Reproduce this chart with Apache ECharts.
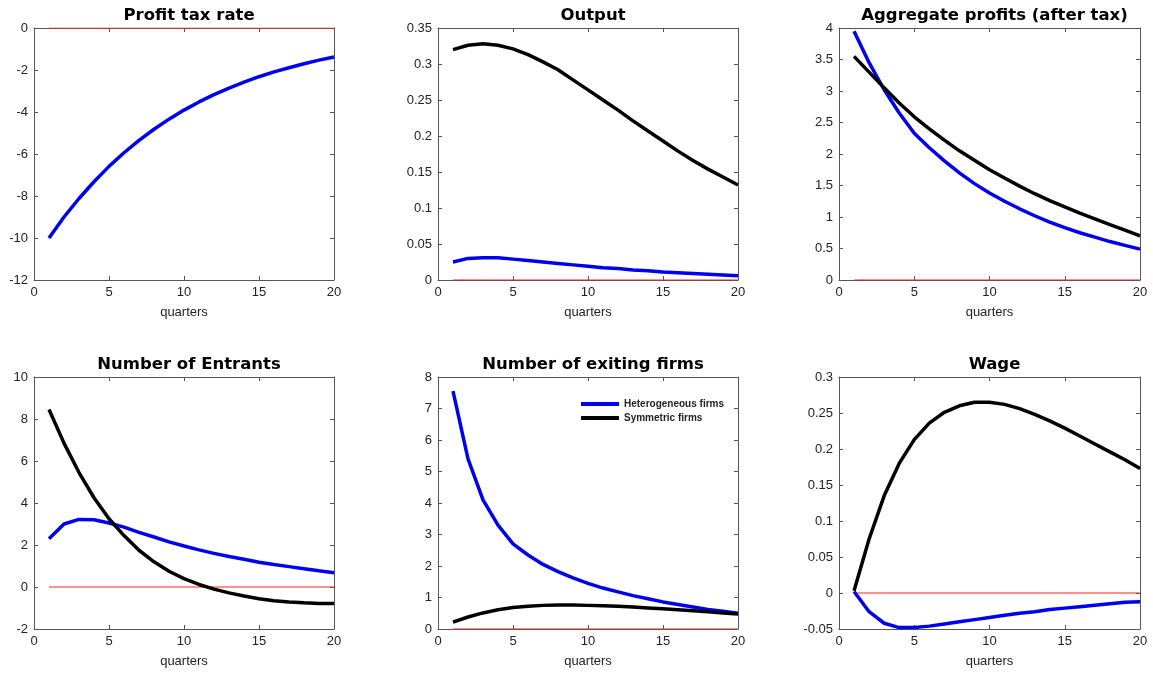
<!DOCTYPE html>
<html>
<head>
<meta charset="utf-8">
<script src="https://cdn.jsdelivr.net/npm/echarts@6/dist/echarts.min.js"></script>
<style>
html,body{margin:0;padding:0;background:#fff;}
#chart{width:1153px;height:677px;}
</style>
</head>
<body>
<div id="chart"></div>
<script>
// ---- Data ----
const quarters = [1,2,3,4,5,6,7,8,9,10,11,12,13,14,15,16,17,18,19,20];
const panelTitles = ["Profit tax rate","Output","Aggregate profits (after tax)","Number of Entrants","Number of exiting firms","Wage"];
const seriesNames = ["Heterogeneous firms","Symmetric firms"];
const xAxisName = "quarters";

// Profit tax rate (only heterogeneous / blue line shown)
const taxHet = [-10,-9.0,-8.12,-7.32,-6.59,-5.94,-5.35,-4.82,-4.34,-3.91,-3.52,-3.17,-2.86,-2.58,-2.32,-2.09,-1.89,-1.70,-1.53,-1.38];
// Output
const outHet = [0.025,0.030,0.031,0.031,0.029,0.027,0.025,0.023,0.021,0.019,0.017,0.016,0.014,0.013,0.011,0.010,0.009,0.008,0.007,0.006];
const outSym = [0.320,0.326,0.328,0.326,0.321,0.313,0.303,0.292,0.278,0.264,0.250,0.236,0.221,0.207,0.193,0.179,0.166,0.154,0.143,0.132];
// Aggregate profits (after tax)
const profHet = [3.95,3.45,3.02,2.65,2.33,2.10,1.89,1.70,1.53,1.38,1.25,1.13,1.02,0.92,0.83,0.75,0.68,0.61,0.55,0.49];
const profSym = [3.55,3.30,3.05,2.81,2.59,2.40,2.22,2.05,1.90,1.75,1.62,1.49,1.37,1.26,1.16,1.06,0.97,0.88,0.79,0.70];
// Number of Entrants
const entHet = [2.3,3.0,3.22,3.2,3.05,2.85,2.6,2.38,2.15,1.95,1.77,1.6,1.45,1.32,1.18,1.07,0.97,0.87,0.77,0.68];
const entSym = [8.45,6.85,5.45,4.25,3.25,2.45,1.75,1.2,0.75,0.4,0.12,-0.1,-0.28,-0.43,-0.56,-0.65,-0.71,-0.75,-0.78,-0.79];
// Number of exiting firms
const exitHet = [7.55,5.4,4.1,3.3,2.7,2.35,2.05,1.82,1.62,1.45,1.3,1.18,1.06,0.96,0.86,0.78,0.7,0.62,0.56,0.5];
const exitSym = [0.22,0.38,0.51,0.61,0.68,0.72,0.75,0.76,0.76,0.75,0.74,0.72,0.70,0.67,0.64,0.61,0.58,0.55,0.51,0.48];
// Wage
const wageHet = [0.002,-0.026,-0.042,-0.048,-0.048,-0.046,-0.043,-0.040,-0.037,-0.034,-0.031,-0.028,-0.026,-0.023,-0.021,-0.019,-0.017,-0.015,-0.013,-0.012];
const wageSym = [0.003,0.075,0.135,0.180,0.213,0.236,0.251,0.260,0.265,0.265,0.262,0.256,0.248,0.239,0.229,0.218,0.207,0.196,0.185,0.173];

// y-axis ranges: [min, max, interval]
const yRanges = [[-12,0,2],[0,0.35,0.05],[0,4,0.5],[-2,10,2],[0,8,1],[-0.05,0.3,0.05]];
const xRange = [0,20,5];

const panelData = [
  [taxHet, null],
  [outHet, outSym],
  [profHet, profSym],
  [entHet, entSym],
  [exitHet, exitSym],
  [wageHet, wageSym]
];

// ---- Layout ----
const grids = [
  {left:34, top:28, width:300, height:252},
  {left:438, top:28, width:300, height:252},
  {left:839, top:28, width:301, height:252},
  {left:34, top:377, width:300, height:252},
  {left:438, top:377, width:300, height:252},
  {left:839, top:377, width:301, height:252}
];

const axisColor = '#555';
const labelColor = '#222';
const font = 'Liberation Sans, Arial, sans-serif';

const option = {
  backgroundColor:'#fff',
  animation:false,
  title:[], grid:[], xAxis:[], yAxis:[], series:[],
  legend:{
    data: seriesNames,
    orient:'vertical',
    left:576, top:394,
    itemWidth:38, itemHeight:4, itemGap:4, itemTextGap:3,
    icon:'rect',
    textStyle:{fontSize:10, fontWeight:'bold', color:labelColor, fontFamily:font},
    selectedMode:false
  }
};

grids.forEach((g,i)=>{
  option.grid.push({left:g.left, top:g.top, width:g.width, height:g.height, containLabel:false});
  option.title.push({
    text: panelTitles[i],
    left: g.left + g.width/2, top: g.top - 26, textAlign:'center',
    textStyle:{fontSize:16.5, fontWeight:'bold', color:'#000', fontFamily:'DejaVu Sans, Liberation Sans, sans-serif'}
  });
  const [ymin,ymax,yint] = yRanges[i];
  // bottom x axis
  option.xAxis.push({
    type:'value', gridIndex:i, min:xRange[0], max:xRange[1], interval:xRange[2], position:'bottom',
    name:xAxisName, nameLocation:'middle', nameGap:26,
    nameTextStyle:{fontSize:13, color:labelColor, fontFamily:font},
    axisLine:{show:true, onZero:false, lineStyle:{color:axisColor, width:1}},
    axisTick:{show:true, inside:true, length:4, lineStyle:{color:axisColor}},
    axisLabel:{fontSize:13, color:labelColor, fontFamily:font, margin:6},
    splitLine:{show:false}
  });
  // top x axis (frame)
  option.xAxis.push({
    type:'value', gridIndex:i, min:xRange[0], max:xRange[1], interval:xRange[2], position:'top',
    axisLine:{show:true, onZero:false, lineStyle:{color:axisColor, width:1}},
    axisTick:{show:true, inside:true, length:4, lineStyle:{color:axisColor}},
    axisLabel:{show:false}, splitLine:{show:false}
  });
  // left y axis
  option.yAxis.push({
    type:'value', gridIndex:i, min:ymin, max:ymax, interval:yint, position:'left',
    axisLine:{show:true, onZero:false, lineStyle:{color:axisColor, width:1}},
    axisTick:{show:true, inside:true, length:4, lineStyle:{color:axisColor}},
    axisLabel:{fontSize:13, color:labelColor, fontFamily:font, margin:6},
    splitLine:{show:false}
  });
  // right y axis (frame)
  option.yAxis.push({
    type:'value', gridIndex:i, min:ymin, max:ymax, interval:yint, position:'right',
    axisLine:{show:true, onZero:false, lineStyle:{color:axisColor, width:1}},
    axisTick:{show:true, inside:true, length:4, lineStyle:{color:axisColor}},
    axisLabel:{show:false}, splitLine:{show:false}
  });
  const xi = i*2, yi = i*2;
  // zero reference line
  option.series.push({
    type:'line', name:'zero', xAxisIndex:xi, yAxisIndex:yi,
    data:[[quarters[0],0],[quarters[quarters.length-1],0]],
    showSymbol:false, symbol:'none', lineStyle:{color:'#ff2020', width:1}, z:1, silent:true
  });
  const [het, sym] = panelData[i];
  if (het) option.series.push({
    type:'line', name:seriesNames[0], xAxisIndex:xi, yAxisIndex:yi,
    data: quarters.map((q,k)=>[q,het[k]]),
    showSymbol:false, symbol:'none', color:'#0000f0', lineStyle:{color:'#0000f0', width:3.5}, z:2
  });
  if (sym) option.series.push({
    type:'line', name:seriesNames[1], xAxisIndex:xi, yAxisIndex:yi,
    data: quarters.map((q,k)=>[q,sym[k]]),
    showSymbol:false, symbol:'none', color:'#000', lineStyle:{color:'#000', width:3.5}, z:3
  });
});

const chart = echarts.init(document.getElementById('chart'), null, {renderer:'canvas'});
chart.setOption(option);
</script>
</body>
</html>
